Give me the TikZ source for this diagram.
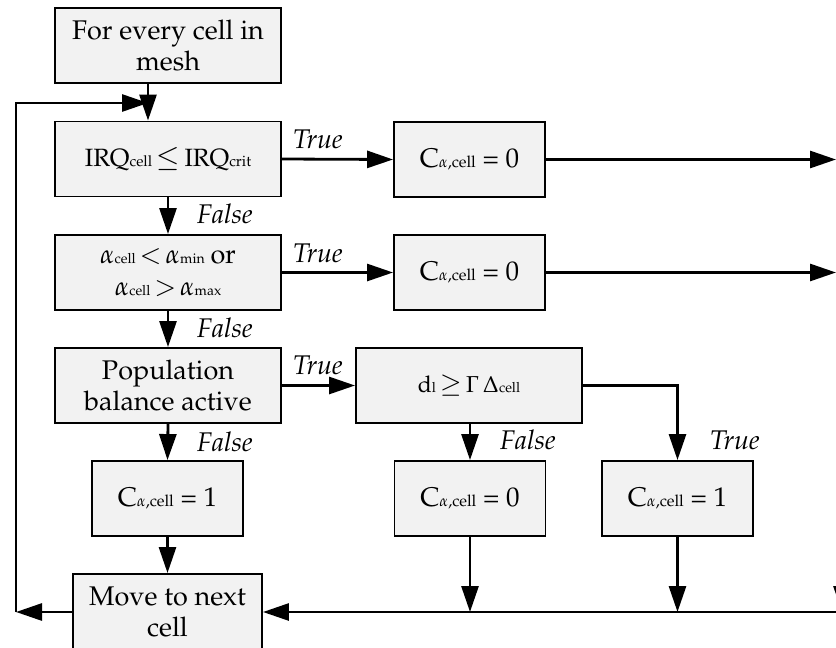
\documentclass[tikz,border=0pt]{standalone}
\usepackage[T1]{fontenc}
\usepackage{mathpazo}
\usetikzlibrary{arrows.meta}
\definecolor{boxfill}{HTML}{F2F2F2}
\newcommand{\sbs}[1]{{\fontsize{16}{16}\selectfont #1}}
\newcommand{\fsbs}[1]{{\fontsize{14}{14}\selectfont #1}}
\newcommand{\rel}[1]{\,\scalebox{1.15}{$#1$}\,}
\tikzset{
  stepbox/.style={draw, line width=1.9pt, fill=boxfill, minimum width=226pt, minimum height=75pt,
    inner sep=0pt, align=center, font=\fontsize{27}{31.5}\selectfont},
  fbox/.style={stepbox, font=\fontsize{23}{32}\selectfont},
  valbox/.style={stepbox, minimum width=151pt},
  arr/.style={line width=2.8pt, -{Triangle[length=26pt,width=17pt]}},
  ln/.style={line width=2.8pt},
  lbl/.style={anchor=base west, inner sep=0pt, font=\fontsize{27}{27}\selectfont\itshape}
}
\begin{document}
\begin{tikzpicture}[x=1pt,y=-1pt]
\path[use as bounding box] (0,0) rectangle (836,648);
% nodes
\node[stepbox] (start) at (168,45.5) {For every cell in\\mesh};
\node[fbox, font=\fontsize{25}{32}\selectfont] (irq) at (168,159) {IRQ{\fontsize{15}{15}\selectfont cell}\rel{\leq}IRQ{\fontsize{15}{15}\selectfont crit}};
\node[valbox] (c0a) at (469.5,159.5) {C\sbs{$\alpha$,cell} = 0};
\node[fbox] (alpha) at (168,272.5) {\scalebox{1.15}{$\alpha$}\fsbs{cell}\rel{<}\scalebox{1.15}{$\alpha$}\fsbs{min} {\fontsize{27}{27}\selectfont or}\\\scalebox{1.15}{$\alpha$}\fsbs{cell}\rel{>}\scalebox{1.15}{$\alpha$}\fsbs{max}};
\node[valbox] (c0b) at (469.5,272.5) {C\sbs{$\alpha$,cell} = 0};
\node[stepbox] (pop) at (168,385.5) {Population\\balance active};
\node[fbox] (dl) at (469,385.5) {d\fsbs{l}\rel{\geq}$\Gamma\,\Delta$\fsbs{cell}};
\node[valbox] (c1a) at (167.5,498.5) {C\sbs{$\alpha$,cell} = 1};
\node[valbox] (c0c) at (470,498.5) {C\sbs{$\alpha$,cell} = 0};
\node[valbox] (c1b) at (677.5,498.5) {C\sbs{$\alpha$,cell} = 1};
\node[stepbox, minimum width=189pt, minimum height=76pt] (move) at (167.5,612) {Move to next\\cell};
% coordinates
\coordinate (inx) at (148,0);
\coordinate (lpb) at (16,612);
\coordinate (lpt) at (16,103);
\coordinate (lpe) at (148,103);
\coordinate (ea) at (836,159.5);
\coordinate (eb) at (836,272.5);
\coordinate (bus) at (850,612);
\coordinate (brx) at (677.5,385.5);
\coordinate (rs) at (842,540);
\coordinate (re) at (842,612);
% connectors
\draw[ln] (start.south -| inx) -- (lpe);
\draw[arr] (lpe) -- (irq.north -| inx);
\draw[arr] (move.west) -- (lpb);
\draw[arr] (lpb) -- (lpt) -- (lpe);
\draw[arr] (irq.east) -- (c0a.west);
\draw[arr] (c0a.east) -- (ea);
\draw[arr] (irq.south) -- (alpha.north);
\draw[arr] (alpha.east |- c0b.west) -- (c0b.west);
\draw[arr] (c0b.east) -- (eb);
\draw[arr] (alpha.south) -- (pop.north);
\draw[arr] (pop.east) -- (dl.west);
\draw[arr] (pop.south) -- (c1a.north);
\draw[arr] (dl.south -| c0c.north) -- (c0c.north);
\draw[arr] (dl.east) -- (brx) -- (c1b.north);
\draw[arr] (c1a.south) -- (move.north);
\draw[arr] (bus) -- (move.east);
\draw[arr] (c0c.south) -- (c0c.south |- move.east);
\draw[arr] (c1b.south) -- (c1b.south |- move.east);
\draw[arr] (rs) -- (re);
% labels
\node[lbl] (t1) at (293,148) {True};
\node[lbl] (t2) at (293,262) {True};
\node[lbl] (t3) at (293,374) {True};
\node[lbl] (f1) at (197,223) {False};
\node[lbl] (f2) at (197,337) {False};
\node[lbl] (f3) at (197,451) {False};
\node[lbl] (f4) at (500,449) {False};
\node[lbl] (t4) at (710,449) {True};
\end{tikzpicture}
\end{document}
